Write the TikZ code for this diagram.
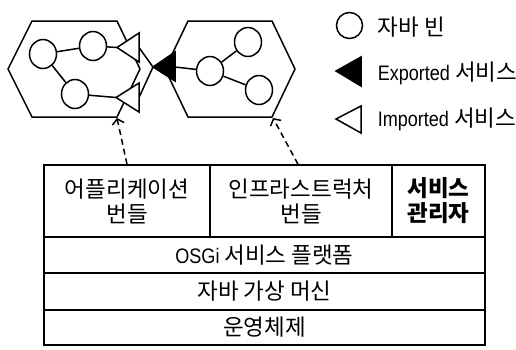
\documentclass[tikz,border=0pt]{standalone}
\usepackage{fontspec}
\setmainfont{Liberation Sans}[FakeStretch=0.86]
\newfontfamily\kr{Noto Sans CJK KR}[Scale=1.07]
\usetikzlibrary{arrows.meta,shapes.geometric}
\begin{document}
\begin{tikzpicture}[x=1pt,y=-1pt, line width=1.5pt,
 bean/.style={draw, ellipse, minimum width=27pt, minimum height=29pt, inner sep=0pt, fill=white},
 hexa/.style={draw, line join=miter},
 imp/.style={draw, fill=white, line join=miter},
 expt/.style={draw, fill=black, line join=miter},
 layer/.style={draw, inner sep=0pt, align=center, font=\fontsize{21}{25}\selectfont},
 legtext/.style={anchor=west, inner sep=0pt, font=\fontsize{21}{24}\selectfont},
 dep/.style={dash pattern=on 6pt off 4pt, -{Straight Barb[length=5pt,width=12pt]}}
]
\useasboundingbox (0,0) rectangle (516,349);

% hexagons (bundles)
\draw[hexa] (8,69) -- (32,21) -- (117,21) -- (140,69) -- (117,117) -- (32,117) -- cycle;
\draw[hexa] (165,69) -- (188,21) -- (272,21) -- (295,69) -- (272,117) -- (188,117) -- cycle;
\coordinate (lhb) at (117,118);
\coordinate (rhb) at (273,118);

% service triangles
\coordinate (it1) at (117,47.5);
\coordinate (it2) at (116,97.5);
\coordinate (ib1) at (139,47.5);
\coordinate (ib2) at (139,97.5);
\coordinate (et) at (153,67);
\coordinate (eb) at (175,67);

% beans left
\node[bean] (a1) at (43,54) {};
\node[bean] (a2) at (93,46) {};
\node[bean] (a3) at (75,94) {};
% beans right
\node[bean] (b1) at (210,71) {};
\node[bean] (b2) at (248,42) {};
\node[bean] (b3) at (259,90) {};

\draw (a1) -- (a2);
\draw (a1) -- (a3);
\draw (a2) -- (it1);
\draw (a3) -- (it2);
\draw (b1) -- (b2);
\draw (b1) -- (b3);
\draw (b1) -- (eb);
\draw (ib1) -- (et);
\draw (ib2) -- (et);

\draw[imp] (it1) -- (139,33) -- (139,62) -- cycle;
\draw[imp] (it2) -- (139,83) -- (139,112) -- cycle;
\draw[expt] (et) -- (175,52) -- (175,81) -- cycle;

% layers
\node[layer, minimum width=166pt, minimum height=72pt] (app) at (127,201) {{\kr 어플리케이션}\\{\kr 번들}};
\node[layer, minimum width=182pt, minimum height=72pt] (infra) at (301,201) {{\kr 인프라스트럭처}\\{\kr 번들}};
\node[layer, minimum width=93pt, minimum height=72pt] (mgr) at (438.5,201) {{\kr\bfseries 서비스}\\{\kr\bfseries 관리자}};
\node[layer, minimum width=441pt, minimum height=36pt] (osgi) at (264.5,255) {OSGi {\kr 서비스 플랫폼}};
\node[layer, minimum width=441pt, minimum height=37pt] (jvm) at (264.5,291.5) {{\kr 자바 가상 머신}};
\node[layer, minimum width=441pt, minimum height=35pt] (os) at (264.5,327.5) {{\kr 운영체제}};

\draw[dep] (app.north) -- (lhb);
\draw[dep] ([xshift=-3pt]infra.north) -- (rhb);

% legend
\node[bean, minimum width=26pt, minimum height=26pt] (lbean) at (349.5,25.5) {};
\node[legtext] (lt1) at (377,27) {{\kr 자바 빈}};
\draw[expt] (336,71) -- (361,57) -- (361,86) -- cycle;
\node[legtext] (lt2) at (377,73) {Exported {\kr 서비스}};
\draw[imp] (336,119) -- (361,106) -- (361,133) -- cycle;
\node[legtext] (lt3) at (377,119) {Imported {\kr 서비스}};
\end{tikzpicture}
\end{document}
